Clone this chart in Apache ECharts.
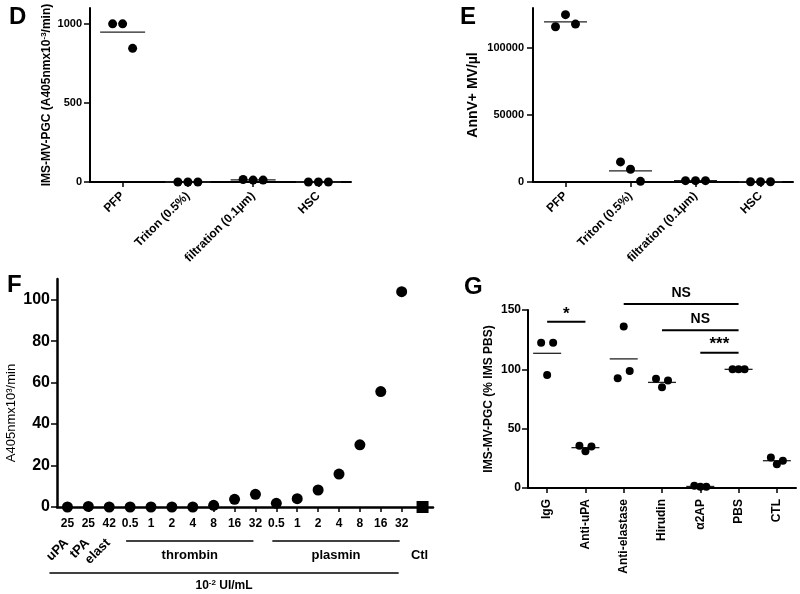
<!DOCTYPE html>
<html><head><meta charset="utf-8">
<script src="https://cdn.jsdelivr.net/npm/echarts@6/dist/echarts.min.js"></script>
<style>html,body{margin:0;padding:0;background:#fff}#c{width:800px;height:594px}</style>
</head><body><div id="c"></div>
<script>
const FONT = '"Liberation Sans", Arial, Helvetica, sans-serif';

// ---------- Panel D ----------
const dCategories = ['PFP', 'Triton (0.5%)', 'filtration (0.1µm)', 'HSC'];
const dRep1 = [1000, 0, 16, 0];
const dRep2 = [1000, 0, 12, 0];
const dRep3 = [845, 0, 12, 0];
const dMean = [948, 0, 13, 0];
const dTicks = [0, 500, 1000];

// ---------- Panel E ----------
const eCategories = ['PFP', 'Triton (0.5%)', 'filtration (0.1µm)', 'HSC'];
const eRep1 = [116000, 15000, 1000, 200];
const eRep2 = [125000, 9500, 1000, 200];
const eRep3 = [118000, 500, 1000, 200];
const eMean = [119700, 8300, 1000, 200];
const eTicks = [0, 50000, 100000];

// ---------- Panel F ----------
const fCategories = ['uPA-25','tPA-25','elast-42','thr-0.5','thr-1','thr-2','thr-4','thr-8','thr-16','thr-32',
  'pl-0.5','pl-1','pl-2','pl-4','pl-8','pl-16','pl-32','Ctl'];
const fTickLabels = ['25','25','42','0.5','1','2','4','8','16','32','0.5','1','2','4','8','16','32',''];
const fValues = [0, 0.3, 0, 0, 0, 0, 0, 0.8, 3.7, 6.1, 1.8, 4.0, 8.2, 15.9, 30, 55.7, 103.9, null];
const fControl = [null,null,null,null,null,null,null,null,null,null,null,null,null,null,null,null,null, 0];
const fTicks = [0, 20, 40, 60, 80, 100];
const fRotatedLabels = [{cat: 0, text: 'uPA'}, {cat: 1, text: 'tPA'}, {cat: 2, text: 'elast'}];
const fGroups = [{from: 3, to: 9, text: 'thrombin'}, {from: 10, to: 16, text: 'plasmin'}];
const fCtlLabel = {cat: 17, text: 'Ctl'};
const fUnit = {from: 0, to: 16, base: '10', sup: '-2', rest: ' UI/mL'};

// ---------- Panel G ----------
const gCategories = ['IgG', 'Anti-uPA', 'Anti-elastase', 'Hirudin', 'α2AP', 'PBS', 'CTL'];
const gRep1 = [122.5, 35.5, 92.5, 92, 2, 100, 25.8];
const gRep2 = [95.3, 31, 136, 85, 1, 100, 20];
const gRep3 = [122.5, 35, 98.7, 90.5, 1, 100, 23];
const gMean = [113.5, 34, 108.8, 89, 1.3, 100, 23];
const gTicks = [0, 50, 100, 150];
const gSignif = [
  {from: 'IgG', to: 'Anti-uPA', level: 140, text: '*'},
  {from: 'Anti-elastase', to: 'PBS', level: 155, text: 'NS'},
  {from: 'Hirudin', to: 'PBS', level: 133, text: 'NS'},
  {from: 'α2AP', to: 'PBS', level: 114, text: '***'}
];

const chart = echarts.init(document.getElementById('c'), null, {renderer: 'canvas'});

const axisLineStyle = (w) => ({show: true, lineStyle: {color: '#000', width: w}});
const tick = (w, len) => ({show: true, length: len, lineStyle: {color: '#000', width: w}});

function catAxis(grid, data, opts) {
  return Object.assign({
    type: 'category', gridIndex: grid, data: data, boundaryGap: true,
    axisLine: axisLineStyle(2), axisTick: Object.assign(tick(1.5, 5), {alignWithLabel: true, interval: 0}),
    splitLine: {show: false}
  }, opts);
}
function valAxis(grid, min, max, ticks, opts) {
  return Object.assign({
    type: 'value', gridIndex: grid, min: min, max: max,
    axisLine: axisLineStyle(2),
    splitLine: {show: false}
  }, opts, {
    axisTick: Object.assign(tick(1.5, 6), {customValues: ticks}),
    axisLabel: Object.assign({customValues: ticks, color: '#000', fontFamily: FONT, fontWeight: 'bold',
      formatter: (v) => String(v)}, opts.axisLabelExtra)
  });
}

function reps(xi, yi, arrs, offs, size) {
  return arrs.map((a, i) => ({
    type: 'scatter', xAxisIndex: xi, yAxisIndex: yi, data: a, symbol: 'circle', symbolSize: size,
    symbolOffset: [offs[i], 0], itemStyle: {color: '#000', opacity: 1}, silent: true, clip: false, z: 3
  }));
}
function meanSeries(xi, yi, data, w) {
  return {type: 'scatter', xAxisIndex: xi, yAxisIndex: yi, data: data, symbol: 'rect', symbolSize: [w, 1.3],
    itemStyle: {color: '#222', opacity: 1}, silent: true, clip: false, z: 2};
}

const option = {
  backgroundColor: '#fff',
  animation: false,
  textStyle: {fontFamily: FONT},
  title: [
    {text: 'D', left: 4, top: 0, textStyle: {fontSize: 24, fontWeight: 'bold', color: '#000', fontFamily: FONT}},
    {text: 'E', left: 455, top: 0, textStyle: {fontSize: 24, fontWeight: 'bold', color: '#000', fontFamily: FONT}},
    {text: 'F', left: 2, top: 268, textStyle: {fontSize: 24, fontWeight: 'bold', color: '#000', fontFamily: FONT}},
    {text: 'G', left: 459, top: 270, textStyle: {fontSize: 24, fontWeight: 'bold', color: '#000', fontFamily: FONT}}
  ],
  grid: [
    {left: 90, top: 8, width: 261, height: 174, containLabel: false, outerBoundsMode: 'none'},
    {left: 533, top: 8, width: 260, height: 174, containLabel: false, outerBoundsMode: 'none'},
    {left: 57, top: 279, width: 376, height: 228, containLabel: false, outerBoundsMode: 'none'},
    {left: 528, top: 310, width: 268, height: 178, containLabel: false, outerBoundsMode: 'none'}
  ],
  xAxis: [
    catAxis(0, dCategories, {axisLabel: {rotate: 45, interval: 0, margin: 12, color: '#000', fontFamily: FONT, fontWeight: 'bold', fontSize: 12}}),
    catAxis(1, eCategories, {axisLabel: {rotate: 45, interval: 0, margin: 12, color: '#000', fontFamily: FONT, fontWeight: 'bold', fontSize: 12}}),
    catAxis(2, fCategories, {axisLine: axisLineStyle(2.5),
      axisLabel: {interval: 0, margin: 11, color: '#000', fontFamily: FONT, fontWeight: 'bold', fontSize: 12,
        formatter: (v, i) => fTickLabels[i]}}),
    catAxis(3, gCategories, {axisLabel: {rotate: 90, interval: 0, margin: 11, color: '#000', fontFamily: FONT, fontWeight: 'bold', fontSize: 12}})
  ],
  yAxis: [
    valAxis(0, 0, 1100, dTicks, {
      name: '{a|IMS-MV-PGC (A405nmx10}{s|-3}{a|/min)}', nameLocation: 'middle', nameGap: 36,
      nameTextStyle: {rich: {a: {fontSize: 12, fontWeight: 'bold', color: '#000', fontFamily: FONT},
        s: {fontSize: 8, fontWeight: 'bold', color: '#000', fontFamily: FONT, padding: [0, 0, 6, 0]}}},
      axisLabelExtra: {fontSize: 11, margin: 8}}),
    valAxis(1, 0, 130000, eTicks, {
      name: 'AnnV+ MV/µl', nameLocation: 'middle', nameGap: 53,
      nameTextStyle: {fontSize: 14, fontWeight: 'bold', color: '#000', fontFamily: FONT},
      axisLabelExtra: {fontSize: 11, margin: 9}}),
    valAxis(2, 0, 110, fTicks, {
      axisLine: axisLineStyle(2.5),
      name: 'A405nmx10³/min', nameLocation: 'middle', nameGap: 39,
      nameTextStyle: {fontSize: 13, fontWeight: 'normal', color: '#000', fontFamily: FONT, padding: [0, 40, 0, 0]},
      axisLabelExtra: {fontSize: 16, margin: 7}}),
    valAxis(3, 0, 150, gTicks, {
      name: 'IMS-MV-PGC (% IMS PBS)', nameLocation: 'middle', nameGap: 33,
      nameTextStyle: {fontSize: 12, fontWeight: 'bold', color: '#000', fontFamily: FONT},
      axisLabelExtra: {fontSize: 12, margin: 7}})
  ],
  series: [].concat(
    reps(0, 0, [dRep1, dRep2, dRep3], [-10, 0, 10], 9),
    [meanSeries(0, 0, dMean, 45)],
    reps(1, 1, [eRep1, eRep2, eRep3], [-10, 0, 10], 9),
    [meanSeries(1, 1, eMean, 43)],
    [{type: 'scatter', xAxisIndex: 2, yAxisIndex: 2, data: fValues, symbol: 'circle', symbolSize: 11,
      itemStyle: {color: '#000', opacity: 1}, silent: true, clip: false, z: 3},
     {type: 'scatter', xAxisIndex: 2, yAxisIndex: 2, data: fControl, symbol: 'rect', symbolSize: 12,
      itemStyle: {color: '#000', opacity: 1}, silent: true, clip: false, z: 3}],
    reps(3, 3, [gRep1, gRep2, gRep3], [-6, 0, 6], 8),
    [meanSeries(3, 3, gMean, 28)]
  )
};

chart.setOption(option);

function buildAnnotations() {
  const els = [];
  const fx = (cat) => chart.convertToPixel({gridIndex: 2}, [cat, 0])[0];
  const fBase = chart.convertToPixel({gridIndex: 2}, [0, 0])[1];
  const bold = (s) => 'bold ' + s + 'px ' + FONT;

  fRotatedLabels.forEach(l => {
    els.push({type: 'text', x: fx(l.cat) - 1, y: fBase + 34, rotation: Math.PI / 4,
      style: {text: l.text, font: bold(13), align: 'right', verticalAlign: 'middle', fill: '#000'}});
  });
  fGroups.forEach(g => {
    const x1 = fx(g.from) - 4, x2 = fx(g.to) - 2;
    els.push({type: 'line', shape: {x1: x1, y1: fBase + 34, x2: x2, y2: fBase + 34},
      style: {stroke: '#000', lineWidth: 1.3}});
    els.push({type: 'text', x: (x1 + x2) / 2, y: fBase + 48,
      style: {text: g.text, font: bold(13), align: 'center', verticalAlign: 'middle', fill: '#000'}});
  });
  els.push({type: 'text', x: fx(fCtlLabel.cat) - 3, y: fBase + 48,
    style: {text: fCtlLabel.text, font: bold(13), align: 'center', verticalAlign: 'middle', fill: '#000'}});
  const ux1 = fx(fUnit.from) - 18, ux2 = fx(fUnit.to) - 3;
  els.push({type: 'line', shape: {x1: ux1, y1: fBase + 66, x2: ux2, y2: fBase + 66},
    style: {stroke: '#000', lineWidth: 1.3}});
  els.push({type: 'text', x: (ux1 + ux2) / 2, y: fBase + 79,
    style: {text: '{a|' + fUnit.base + '}{s|' + fUnit.sup + '}{a|' + fUnit.rest + '}',
      align: 'center', verticalAlign: 'middle',
      rich: {a: {font: bold(12), fill: '#000'}, s: {font: bold(8), fill: '#000', padding: [0, 0, 6, 0]}}}});

  gSignif.forEach(s => {
    const p1 = chart.convertToPixel({gridIndex: 3}, [s.from, s.level]);
    const p2 = chart.convertToPixel({gridIndex: 3}, [s.to, s.level]);
    els.push({type: 'line', shape: {x1: p1[0], y1: p1[1], x2: p2[0], y2: p2[1]},
      style: {stroke: '#000', lineWidth: 2}});
    const star = s.text.indexOf('*') >= 0;
    els.push({type: 'text', x: (p1[0] + p2[0]) / 2, y: star ? p1[1] - 8 : p1[1] - 4,
      style: {text: s.text, font: bold(star ? 17 : 14), align: 'center',
        verticalAlign: star ? 'middle' : 'bottom', fill: '#000'}});
  });
  return els;
}

chart.setOption({graphic: {elements: buildAnnotations()}});
</script>
</body></html>
